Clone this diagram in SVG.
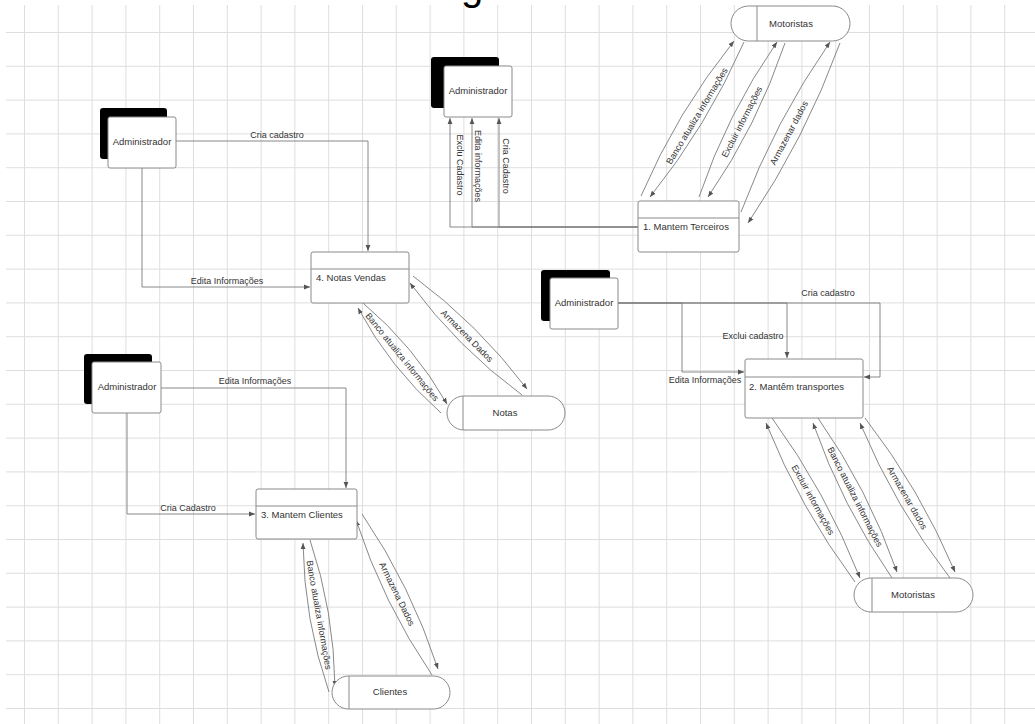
<svg xmlns="http://www.w3.org/2000/svg" width="1035" height="724" viewBox="0 0 1035 724">
<style>
.t{font-family:"Liberation Sans",Arial,sans-serif;font-size:9.5px;fill:#333}
.l{font-family:"Liberation Sans",Arial,sans-serif;font-size:9px;fill:#333}
.c{fill:none;stroke:#7a7a7a;stroke-width:0.9}
.box{fill:#fff;stroke:#8a8a8a;stroke-width:1}
.sh{fill:#000}
.dv{stroke:#8a8a8a;stroke-width:1}
</style>
<defs>
<pattern id="grid" x="24" y="32" width="33.8" height="33.8" patternUnits="userSpaceOnUse">
<path d="M0,0.5 H33.8 M0.5,0 V33.8" stroke="#dedede" stroke-width="1" fill="none"/>
</pattern>
<marker id="ah" viewBox="0 0 10 10" refX="10" refY="5" markerWidth="6" markerHeight="6" markerUnits="userSpaceOnUse" orient="auto">
<path d="M0,1 L10,5 L0,9 z" fill="#555"/>
</marker>
</defs>
<rect width="1035" height="724" fill="#fff"/>
<rect x="6" y="5" width="1029" height="719" fill="url(#grid)"/>
<text x="461" y="0" style="font-family:'Liberation Sans',Arial,sans-serif;font-size:40px;fill:#000">g</text>

<g id="connectors">
<!-- Admin 1 -> 4. Notas Vendas -->
<path class="c" d="M176,141 H368 V251" marker-end="url(#ah)"/>
<path class="c" d="M142,168 V287 H310" marker-end="url(#ah)"/>
<!-- 1. Mantem Terceiros -> Admin 2 -->
<path class="c" d="M638,227 H450 V118" marker-end="url(#ah)"/>
<path class="c" d="M638,227 H472 V118" marker-end="url(#ah)"/>
<path class="c" d="M638,227 H499 V118" marker-end="url(#ah)"/>
<!-- Terceiros <-> Motoristas (top) -->
<path class="c" d="M641,196 Q677,112 734,41" marker-end="url(#ah)"/>
<path class="c" d="M744,42 Q707,126 650,197" marker-end="url(#ah)"/>
<path class="c" d="M699,197 Q727,114 777,42" marker-end="url(#ah)"/>
<path class="c" d="M785,43 Q757,126 708,197" marker-end="url(#ah)"/>
<path class="c" d="M741,212 Q775,121 830,42" marker-end="url(#ah)"/>
<path class="c" d="M840,43 Q805,139 748,223" marker-end="url(#ah)"/>
<!-- Notas Vendas <-> Notas -->
<path class="c" d="M413,276 Q478,324 527,389" marker-end="url(#ah)"/>
<path class="c" d="M522,395 Q458,348 410,283" marker-end="url(#ah)"/>
<path class="c" d="M363,303 Q414,346 447,404" marker-end="url(#ah)"/>
<path class="c" d="M441,413 Q390,368 358,308" marker-end="url(#ah)"/>
<!-- Admin 4 -> 3. Mantem Clientes -->
<path class="c" d="M161,388 H346 V488" marker-end="url(#ah)"/>
<path class="c" d="M127,413 V514 H255" marker-end="url(#ah)"/>
<!-- Clientes <-> process 3 -->
<path class="c" d="M310,540 Q334,611 335,687" marker-end="url(#ah)"/>
<path class="c" d="M329,692 Q304,620 303,543" marker-end="url(#ah)"/>
<path class="c" d="M362,514 Q411,586 438,669" marker-end="url(#ah)"/>
<path class="c" d="M432,675 Q383,603 356,520" marker-end="url(#ah)"/>
<!-- Admin 3 -> 2. Mantem transportes -->
<path class="c" d="M618,303 H880 V377 H864" marker-end="url(#ah)"/>
<path class="c" d="M618,303 H787 V358" marker-end="url(#ah)"/>
<path class="c" d="M618,303 H682 V372 H744" marker-end="url(#ah)"/>
<!-- process 2 <-> Motoristas (bottom) -->
<path class="c" d="M772,418 Q826,492 860,578" marker-end="url(#ah)"/>
<path class="c" d="M855,582 Q800,508 766,423" marker-end="url(#ah)"/>
<path class="c" d="M818,418 Q868,489 897,572" marker-end="url(#ah)"/>
<path class="c" d="M892,578 Q842,506 813,423" marker-end="url(#ah)"/>
<path class="c" d="M865,418 Q920,489 955,572" marker-end="url(#ah)"/>
<path class="c" d="M950,578 Q895,507 860,423" marker-end="url(#ah)"/>

<!-- labels -->
<text class="l" x="277" y="138" text-anchor="middle">Cria cadastro</text>
<text class="l" x="227" y="284" text-anchor="middle">Edita Informações</text>
<text class="l" text-anchor="middle" transform="translate(460,165) rotate(90)" dy="3">Exclu Cadastro</text>
<text class="l" text-anchor="middle" transform="translate(478,166) rotate(90)" dy="3">Edita informações</text>
<text class="l" text-anchor="middle" transform="translate(506,166) rotate(90)" dy="3">Cria Cadastro</text>
<text class="l" text-anchor="middle" transform="translate(697,116) rotate(-59)" dy="3">Banco atualiza informações</text>
<text class="l" text-anchor="middle" transform="translate(742,122) rotate(-63)" dy="3">Excluir informações</text>
<text class="l" text-anchor="middle" transform="translate(789,133) rotate(-62)" dy="3">Armazenar dados</text>
<text class="l" text-anchor="middle" transform="translate(467,336) rotate(45)" dy="3">Armazena Dados</text>
<text class="l" text-anchor="middle" transform="translate(402,357) rotate(51)" dy="3">Banco atualiza informações</text>
<text class="l" x="255" y="384" text-anchor="middle">Edita Informações</text>
<text class="l" x="188" y="511" text-anchor="middle">Cria Cadastro</text>
<text class="l" text-anchor="middle" transform="translate(319,615) rotate(80)" dy="3">Banco atualiza informações</text>
<text class="l" text-anchor="middle" transform="translate(397,594) rotate(64)" dy="3">Armazena Dados</text>
<text class="l" x="828" y="296" text-anchor="middle">Cria cadastro</text>
<text class="l" x="753" y="339" text-anchor="middle">Exclui cadastro</text>
<text class="l" x="705" y="383" text-anchor="middle">Edita Informações</text>
<text class="l" text-anchor="middle" transform="translate(813,500) rotate(61)" dy="3">Excluir informações</text>
<text class="l" text-anchor="middle" transform="translate(855,497) rotate(63)" dy="3">Banco atualiza informações</text>
<text class="l" text-anchor="middle" transform="translate(907,498) rotate(60)" dy="3">Armazenar dados</text>
</g>

<!-- External entities -->
<g id="admin1">
<rect class="sh" x="100" y="108" width="67" height="51" rx="3"/>
<rect class="box" x="108" y="117" width="68" height="51" rx="2"/>
<text class="t" x="142" y="144.5" text-anchor="middle">Administrador</text>
</g>
<g id="admin2">
<rect class="sh" x="431" y="57" width="68" height="51" rx="3"/>
<rect class="box" x="444" y="66" width="68" height="51" rx="2"/>
<text class="t" x="478" y="93.5" text-anchor="middle">Administrador</text>
</g>
<g id="admin3">
<rect class="sh" x="541" y="270" width="69" height="51" rx="3"/>
<rect class="box" x="550" y="278" width="68" height="51" rx="2"/>
<text class="t" x="584" y="306" text-anchor="middle">Administrador</text>
</g>
<g id="admin4">
<rect class="sh" x="84" y="354" width="68" height="50" rx="3"/>
<rect class="box" x="92" y="362" width="69" height="51" rx="2"/>
<text class="t" x="127" y="390" text-anchor="middle">Administrador</text>
</g>

<!-- Processes -->
<g id="proc1">
<rect class="box" x="638" y="201" width="101" height="51" rx="2"/>
<line class="dv" x1="638" y1="218" x2="739" y2="218"/>
<text class="t" x="643" y="230">1. Mantem Terceiros</text>
</g>
<g id="proc2">
<rect class="box" x="745" y="359" width="118" height="59" rx="2"/>
<line class="dv" x1="745" y1="377" x2="863" y2="377"/>
<text class="t" x="749" y="390">2. Mantêm transportes</text>
</g>
<g id="proc3">
<rect class="box" x="256" y="489" width="101" height="50" rx="2"/>
<line class="dv" x1="256" y1="506" x2="357" y2="506"/>
<text class="t" x="261" y="517.5">3. Mantem Clientes</text>
</g>
<g id="proc4">
<rect class="box" x="311" y="252" width="98" height="51" rx="2"/>
<line class="dv" x1="311" y1="269" x2="409" y2="269"/>
<text class="t" x="316" y="280.5">4. Notas Vendas</text>
</g>

<!-- Data stores -->
<g id="store-motoristas-top">
<rect class="box" x="731" y="6" width="119" height="35" rx="17.5"/>
<line class="dv" x1="757" y1="6" x2="757" y2="41"/>
<text class="t" x="791" y="26.5" text-anchor="middle">Motoristas</text>
</g>
<g id="store-notas">
<rect class="box" x="447" y="396" width="118" height="34" rx="17"/>
<line class="dv" x1="463" y1="396" x2="463" y2="430"/>
<text class="t" x="505" y="416" text-anchor="middle">Notas</text>
</g>
<g id="store-clientes">
<rect class="box" x="332" y="676" width="118" height="33" rx="16.5"/>
<line class="dv" x1="349" y1="676" x2="349" y2="709"/>
<text class="t" x="390" y="695" text-anchor="middle">Clientes</text>
</g>
<g id="store-motoristas-bottom">
<rect class="box" x="854" y="578" width="119" height="34" rx="17"/>
<line class="dv" x1="872" y1="578" x2="872" y2="612"/>
<text class="t" x="913" y="598" text-anchor="middle">Motoristas</text>
</g>
</svg>
